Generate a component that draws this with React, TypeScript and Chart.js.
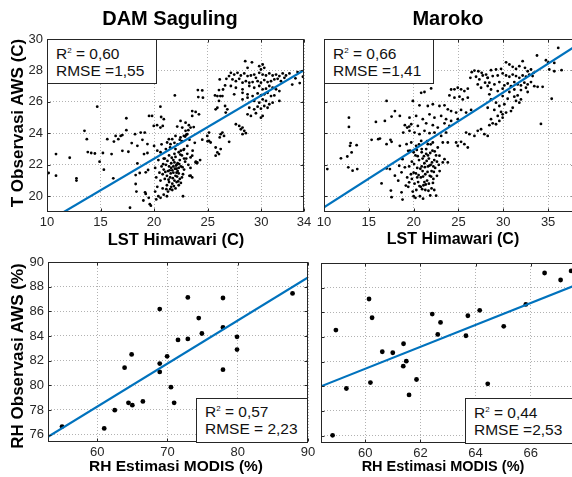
import React, { useEffect, useRef } from 'react';
import { Chart, registerables } from 'chart.js';

Chart.register(...registerables);

const FONT = "'Liberation Sans', Arial, Helvetica, sans-serif";
const INK = '#262626';
const FIT_COLOR = '#0072BD';
const GRID_COLOR = 'rgba(0,0,0,0.3)';

// ---------- titles / labels ----------
const TITLES = ['DAM Saguling', 'Maroko'];
const TOP_X_LABEL = 'LST Himawari (C)';
const TOP_Y_LABEL = 'T Observasi AWS (C)';
const BOTTOM_X_LABEL = 'RH Estimasi MODIS (%)';
const BOTTOM_Y_LABEL = 'RH Observasi AWS (%)';

// ---------- tick values ----------
const TL_X_TICKS = [10, 15, 20, 25, 30, 34];
const TR_X_TICKS = [10, 15, 20, 25, 30, 35];
const T_Y_TICKS = [20, 22, 24, 26, 28, 30];
const BL_X_TICKS = [60, 70, 80, 90];
const BR_X_TICKS = [60, 62, 64, 66, 68];
const RH_Y_TICKS = [76, 78, 80, 82, 84, 86, 88, 90];

// ---------- axis ranges ----------
const TL_X_RANGE = [10, 34];
const TR_X_RANGE = [10, 38];
const T_Y_RANGE = [19, 30];
const BL_X_RANGE = [53, 90];
const BR_X_RANGE = [58.4, 68];
const RH_Y_RANGE = [75.4, 90];

// ---------- regression lines [slope, intercept] ----------
const TL_FIT = [0.402, 14.35];
const TR_FIT = [0.365, 15.65];
const BL_FIT = [0.349, 57.33];
const BR_FIT = [0.889, 28.08];

// ---------- statistics ----------
const TL_STATS = ['0,60', 'RMSE =1,55'];
const TR_STATS = ['0,66', 'RMSE =1,41'];
const BL_STATS = ['0,57', 'RMSE = 2,23'];
const BR_STATS = ['0,44', 'RMSE =2,53'];

// ---------- DAM Saguling: LST Himawari vs T AWS ----------
const TL_POINTS: number[][] = [
  [14.69,25.70],[10.15,21.48],[10.84,22.68],[10.84,21.31],[12.12,22.45],[12.75,21.14],[12.75,21.0],[13.5,24.16],
  [13.72,23.63],[13.81,22.81],[14.13,22.75],[14.47,22.72],[14.91,22.2],[15.22,22.75],[15.31,21.69],[15.63,23.63],
  [16.03,22.68],[16.19,21.14],[16.25,23.48],[16.41,23.84],[16.66,23.63],[16.88,23.84],[17.04,23.89],[17.41,24.96],
  [17.41,24.2],[17.04,22.89],[17.6,22.83],[17.91,23.38],[18.22,23.95],[18.75,24.05],[19.13,24.05],[18.44,23.21],
  [18.91,23.59],[19.38,23.32],[18.44,22.09],[19.06,22.68],[19.38,22.75],[19.53,25.11],[18.28,21.35],[18.28,20.78],
  [18.35,20.3],[19.16,20.25],[19.22,20.15],[19.0,19.73],[17.75,19.27],[18.66,21.48],[19.22,21.52],[19.44,21.67],
  [27.0,27.64],[26.75,27.47],[26.13,27.43],[26.63,27.05],[26.44,26.79],[26.06,26.75],[25.69,26.41],[25.91,26.37],
  [26.19,26.37],[26.38,26.37],[24.09,26.75],[24.5,26.73],[24.13,26.31],[24.56,26.27],[21.94,26.41],[20.59,25.70],
  [26.06,26.06],[25.91,25.63],[25.75,25.53],[26.63,25.74],[26.84,25.53],[26.69,25.32],[23.56,25.42],[23.88,25.36],
  [24.19,25.21],[23.56,25.11],[20.66,25.04],[20.91,24.9],[20.81,24.47],[20.59,24.37],[19.81,25.11],[19.97,24.47],
  [20.28,24.52],[22.47,24.79],[22.94,24.68],[23.25,24.52],[22.16,24.43],[22.63,24.37],[22.94,24.16],[23.41,24.37],
  [23.09,23.95],[22.78,23.84],[22.47,23.74],[22.0,23.84],[21.69,23.63],[21.38,23.63],[21.22,23.42],[21.53,23.31],
  [25.13,24.05],[24.97,23.84],[26.38,24.05],[26.22,23.95],[26.53,23.84],[26.13,23.74],[25.75,23.1],[25.91,22.79],
  [26.06,22.68],[25.75,22.58],[25.13,23.52],[25.28,23.42],[26.22,23.0],[23.41,22.47],[23.56,22.58],[23.88,22.15],
  [24.03,22.15],[23.41,21.31],[23.56,21.2],
  [20.1,21.8],[20.2,21.2],[20.3,20.6],[20.4,22.3],[20.1,20.3],[20.5,21.5],[20.3,22.9],[20.0,23.2],[20.4,20.0],[20.2,19.8],
  [20.6,21.0],[20.7,21.9],[20.8,20.5],[20.9,22.4],[20.6,22.8],[20.8,21.4],[20.9,20.1],[20.7,23.3],[20.6,19.9],[20.9,21.7],
  [21.0,21.1],[21.1,22.0],[21.2,20.7],[21.3,21.6],[21.4,22.6],[21.1,23.0],[21.2,21.3],[21.3,20.3],[21.4,21.9],[21.0,22.4],
  [21.2,20.0],[21.4,20.9],[21.5,21.2],[21.6,22.1],[21.7,20.8],[21.8,21.5],[21.9,22.7],[21.6,21.8],[21.7,20.4],[21.8,22.3],
  [21.9,21.0],[21.5,23.1],[21.6,20.6],[21.8,21.9],[21.9,23.4],[22.0,21.3],[22.1,22.0],[22.2,21.6],[22.3,22.8],[22.4,21.1],
  [22.0,22.5],[22.1,20.9],[22.2,23.3],[22.3,21.8],[22.4,22.3],[22.0,20.5],[22.2,22.1],[22.4,23.6],[22.1,21.5],[22.3,20.7],
  [22.5,21.9],[22.6,22.6],[22.7,21.4],[22.8,23.0],[22.9,22.2],[22.6,23.5],[22.7,20.0],[22.8,21.7],[22.5,22.9],[22.9,23.8],
  [22.6,21.2],[22.8,22.4],[23.0,22.4],[23.1,23.2],[23.2,22.0],[23.3,23.6],[23.4,21.8],[23.1,22.7],[23.3,21.3],[23.0,23.9],
  [23.2,24.2],[23.6,22.9],[23.8,23.4],[23.7,24.4],[23.9,22.2],[19.6,19.5],[19.5,19.9],[19.7,19.4],[24.3,22.3],[24.5,23.6],
  [25.0,23.5],[24.0,22.1],[21.55,21.45],[21.75,21.15],[21.95,21.75],[22.15,21.25],[22.35,22.05],[21.65,22.45],[22.05,21.95],
  [21.85,20.65],[22.25,20.95],[21.45,21.65],
  [21.05,21.55],[21.25,22.25],[21.5,20.45],[21.7,21.65],[21.9,22.15],[22.1,21.75],[22.3,21.45],[22.5,20.85],[22.45,22.65],
  [21.35,21.05],[20.85,22.05],[22.65,21.85],[21.15,20.45],[22.0,23.0],[22.75,22.95],
  [28.51,28.59],[29.14,28.52],[28.73,28.17],[29.82,28.27],[30.14,28.38],[30.29,28.17],[29.98,28.06],
  [27.17,27.85],[27.48,27.74],[27.79,27.85],[28.10,27.68],[28.42,27.81],[28.73,27.64],[29.04,27.68],[29.35,27.74],
  [29.51,27.53],[29.82,27.85],[30.14,27.74],[30.45,27.68],[30.76,27.81],[31.07,27.68],[31.39,27.74],[31.70,27.64],
  [32.01,27.81],[32.32,27.68],[32.64,27.81],
  [27.32,27.43],[27.64,27.32],[27.95,27.47],[28.26,27.22],[28.57,27.32],[28.89,27.22],[29.20,27.26],[29.67,27.32],
  [29.98,27.22],[30.29,27.39],[30.60,27.26],[30.92,27.32],[31.23,27.43],[31.54,27.47],[31.85,27.32],[32.17,27.53],
  [27.17,27.01],[27.64,26.9],[28.26,26.8],[28.89,27.01],[29.35,26.9],[29.82,27.01],[30.14,26.8],[30.45,26.84],
  [30.76,27.01],[31.07,26.9],[31.39,26.8],[31.70,26.69],
  [27.48,26.48],[28.26,26.58],[28.73,26.48],[29.20,26.37],[29.67,26.54],[29.98,26.41],[30.29,26.48],[30.60,26.58],
  [30.92,26.37],[31.23,26.41],[31.70,26.06],
  [28.26,26.16],[28.73,26.27],[29.35,26.06],[29.82,25.95],[30.14,26.16],[30.45,26.06],[30.76,25.85],[31.07,25.95],
  [28.89,25.63],[29.35,25.53],[29.67,25.70],[29.98,25.57],[30.29,25.74],[30.60,25.63],
  [28.73,25.21],[29.04,25.11],[29.51,25.28],[29.98,25.0],[30.14,25.11],
  [27.64,24.58],[27.95,24.47],[28.26,24.37],[28.42,24.16],[28.26,23.95],[28.57,24.01],[28.10,24.26],[27.01,23.46],
  [33.2,27.5],[33.6,27.2],[33.9,27.6],[32.9,27.1],[33.4,27.9],
];

// ---------- Maroko: LST Himawari vs T AWS ----------
const TR_POINTS: number[][] = [
  [16.98,26.06],[17.91,25.42],[18.46,25.11],[17.54,25.07],[16.79,24.79],[15.79,24.73],[12.78,25.0],[12.78,24.41],
  [19.02,24.52],[19.28,24.37],[19.5,24.43],[18.84,24.05],[12.97,23.38],[12.90,23.21],[13.64,23.25],[13.08,22.79],
  [15.31,23.59],[16.05,23.63],[16.24,23.67],[16.98,23.31],[17.42,23.59],[17.54,23.46],[18.46,23.21],[19.21,23.31],
  [19.39,22.89],[11.89,22.41],[12.6,22.53],[10.37,21.73],[12.71,21.84],[13.19,21.63],[13.71,21.73],[16.98,21.77],
  [17.35,21.73],[18.76,22.36],[18.39,21.94],[19.02,21.84],[18.65,21.52],[17.91,21.31],[18.28,20.99],[16.42,20.82],
  [19.28,21.2],[19.5,20.89],[19.13,20.68],[17.46,20.36],[18.65,20.25],[17.54,19.94],[18.76,19.79],
  [26.48,27.89],[26.78,27.99],[27.22,27.95],[27.59,27.85],[26.33,27.53],[26.96,27.6],[27.33,27.43],[27.71,27.68],
  [28.08,27.74],[28.26,27.53],[27.15,27.11],[27.52,26.9],[27.97,27.22],[28.26,27.01],[21.95,26.86],[20.84,26.58],
  [21.21,26.63],[24.18,26.79],[24.55,26.8],[24.92,26.9],[25.29,26.8],[25.66,26.69],[26.04,26.84],[23.99,26.41],
  [24.55,26.27],[25.11,26.33],[25.48,26.16],[26.04,26.27],[19.91,26.06],[20.65,25.78],[21.58,25.74],[22.14,25.85],
  [22.88,25.74],[23.44,25.78],[23.81,25.53],[24.18,25.42],[24.74,25.32],[25.29,25.49],[25.85,25.32],[26.41,25.49],
  [19.54,25.0],[20.28,25.11],[21.02,24.9],[21.77,25.21],[22.32,25.0],[23.07,25.11],[23.62,24.9],[24.18,24.79],
  [24.92,24.9],[19.73,24.58],[20.47,24.47],[21.4,24.64],[22.14,24.52],[22.69,24.37],[23.44,24.64],[23.99,24.47],
  [19.54,24.16],[20.1,24.05],[20.65,23.95],[21.21,24.16],[21.77,24.01],[22.32,24.05],[23.07,23.84],[23.62,24.05],
  [25.85,24.05],[26.22,23.95],[26.78,23.84],[27.15,24.16],[27.52,24.26],[27.89,23.95],[28.26,23.84],[24.74,23.42],
  [25.29,23.46],[24.92,23.21],[25.66,23.31],[26.04,23.1],[23.81,23.42],[19.73,23.42],[20.28,23.21],[20.84,23.52],
  [21.58,23.31],[22.14,23.42],[22.69,23.1],[23.25,23.42],[22.88,22.58],[23.25,22.15],[23.81,22.15],[23.44,22.36],
  [22.51,20.04],
  [19.6,22.9],[19.8,22.2],[20.0,21.5],[20.2,22.6],[20.4,21.8],[20.5,20.9],[20.6,22.3],[20.8,21.2],[20.9,22.8],[21.0,21.6],
  [21.1,20.7],[21.2,22.1],[21.3,21.4],[21.4,22.7],[21.5,21.0],[21.6,21.9],[21.7,22.4],[21.8,21.3],[21.9,22.0],[22.0,21.6],
  [22.1,22.9],[22.2,21.1],[22.3,22.3],[22.4,21.8],[22.5,22.6],[20.3,20.4],[20.7,20.0],[20.1,20.8],[19.8,21.1],[19.5,21.9],
  [20.9,21.9],[21.3,20.4],[21.7,20.8],[22.0,20.5],[21.4,23.0],[20.6,23.3],[22.6,21.3],[22.8,22.0],[21.0,22.4],[21.6,22.6],
  [20.4,21.2],[19.9,20.3],[20.2,19.9],[20.8,20.6],[21.2,20.9],[22.2,21.9],[21.9,23.3],[20.0,22.8],[19.4,20.6],[22.3,20.4],
  [19.7,21.4],[20.05,22.05],[20.35,22.95],[20.55,21.35],[20.75,21.75],[20.95,20.45],[21.05,21.25],[21.15,22.55],
  [21.25,21.85],[21.35,20.75],[21.45,22.25],[21.55,21.55],[21.65,20.35],[21.75,21.95],[21.85,22.75],[21.95,21.25],
  [22.05,22.15],[22.15,20.85],[22.25,21.55],[22.35,22.85],[20.45,22.55],[20.65,20.65],[21.05,19.85],[21.85,20.05],
  [20.25,21.45],[21.5,23.5],[20.9,23.0],[22.6,22.2],[22.9,21.6],[20.0,20.0],
  [36.13,29.43],[33.76,28.95],[34.76,28.65],[35.02,28.52],[35.69,28.48],[35.13,28.06],[36.5,28.02],[35.69,27.95],
  [28.63,28.02],[29.19,28.06],[29.75,28.1],[30.31,28.52],[30.68,28.38],[31.05,28.23],[31.42,28.1],[31.79,28.27],
  [32.16,28.59],[32.42,28.17],[32.72,27.95],[33.09,28.06],[33.39,27.85],
  [28.26,27.53],[28.82,27.64],[29.38,27.68],[29.93,27.81],[30.31,27.68],[30.68,27.6],[31.05,27.74],[31.42,27.64],
  [31.79,27.53],[32.16,27.68],[32.53,27.6],[32.9,27.74],[33.27,27.64],
  [28.45,27.22],[29.01,27.11],[29.56,27.26],[30.12,27.05],[30.49,27.17],[30.86,27.0],[31.23,27.26],[31.6,27.11],
  [31.97,27.05],[32.35,27.22],[32.72,27.11],[33.09,27.26],[33.46,27.0],
  [28.63,26.79],[29.38,26.69],[29.93,26.84],[30.68,26.63],[31.23,26.79],[31.97,26.75],[32.53,26.9],[33.83,26.96],[34.39,26.96],
  [29.93,26.37],[30.49,26.2],[31.23,26.33],[31.6,26.41],[31.97,26.16],[31.42,26.06],[31.79,25.95],[32.72,26.63],
  [29.19,25.95],[29.56,25.74],[30.12,25.85],[29.0,25.49],[29.75,25.36],[29.38,25.11],[29.93,25.21],[29.56,24.79],
  [29.19,24.58],[28.82,24.64],[28.45,24.52],[29.93,25.0],[30.31,25.32],[31.05,25.63],[30.86,25.42],
  [28.45,26.48],[28.63,26.16],[28.26,25.63],[28.63,24.9],[35.4,26.2],[34.2,24.6],
];

// ---------- DAM Saguling: RH MODIS vs RH AWS ----------
const BL_POINTS: number[][] = [
  [55.0,76.65],[61.0,76.5],[62.5,77.98],[63.9,81.43],[64.45,78.58],[65.0,78.39],[64.9,82.5],[66.5,78.69],
  [68.9,86.18],[68.9,81.76],[68.9,81.08],[69.95,82.35],[70.5,79.85],[70.95,78.58],[71.5,83.68],[72.9,87.13],
  [72.9,83.76],[74.45,85.45],[74.9,84.2],[77.9,87.08],[77.9,84.69],[77.9,81.27],[79.9,83.93],[79.9,82.9],
  [87.8,87.45],
];

// ---------- Maroko: RH MODIS vs RH AWS ----------
const BR_POINTS: number[][] = [
  [58.82,76.02],[58.94,84.56],[59.32,79.82],[60.14,87.08],[60.25,85.56],[60.19,80.30],[60.62,82.80],[61.0,82.72],
  [61.39,83.45],[61.49,82.04],[61.38,81.63],[61.59,79.30],[61.86,80.55],[62.43,85.86],[62.73,85.18],[62.63,84.21],
  [63.65,84.10],[63.72,85.72],[64.15,86.16],[64.44,80.20],[65.02,84.86],[65.82,86.64],[66.5,89.19],[67.08,88.62],
  [67.46,89.36],
];

const boxPlugin = {
  id: 'matlabBox',
  afterDatasetsDraw(chart: any) {
    const { ctx, chartArea: a, scales } = chart;
    const l = Math.round(a.left) + 0.5;
    const t = Math.round(a.top) + 0.5;
    const r = Math.round(a.right) - 0.5;
    const b = Math.round(a.bottom) - 0.5;
    ctx.save();
    ctx.strokeStyle = INK;
    ctx.lineWidth = 1;
    ctx.setLineDash([]);
    ctx.beginPath();
    const tl = 3;
    for (const tk of scales.x.ticks) {
      const px = Math.round(scales.x.getPixelForValue(tk.value)) + 0.5;
      ctx.moveTo(px, b); ctx.lineTo(px, b - tl);
      ctx.moveTo(px, t); ctx.lineTo(px, t + tl);
    }
    for (const tk of scales.y.ticks) {
      const py = Math.round(scales.y.getPixelForValue(tk.value)) + 0.5;
      ctx.moveTo(l, py); ctx.lineTo(l + tl, py);
      ctx.moveTo(r, py); ctx.lineTo(r - tl, py);
    }
    ctx.stroke();
    ctx.strokeRect(l, t, r - l, b - t);
    ctx.restore();
  },
};

type PanelProps = {
  points: number[][];
  fit: number[];
  xRange: number[];
  yRange: number[];
  xTicks: number[];
  yTicks: number[];
  showY: boolean;
  plotLeft: number;
  plotTop: number;
  plotW: number;
  plotH: number;
  radius: number;
};

function Panel(p: PanelProps) {
  const ref = useRef<HTMLCanvasElement>(null);
  const PAD = 16;
  const B = 28;
  const L = p.showY ? p.plotLeft : 16;
  const W = L + p.plotW + PAD;
  const H = PAD + p.plotH + B;
  const left = p.plotLeft - L;
  const top = p.plotTop - PAD;

  useEffect(() => {
    if (!ref.current) return;
    const lineData = p.xRange.map((x) => ({ x, y: p.fit[0] * x + p.fit[1] }));
    const tickFont = { family: FONT, size: 13 };
    const chart = new Chart(ref.current, {
      type: 'scatter',
      data: {
        datasets: [
          {
            type: 'line',
            data: lineData,
            borderColor: FIT_COLOR,
            borderWidth: 2.2,
            pointRadius: 0,
            clip: 0,
            order: 0,
          } as any,
          {
            data: p.points.map(([x, y]) => ({ x, y })),
            pointRadius: p.radius,
            pointBackgroundColor: '#000',
            pointBorderWidth: 0,
            backgroundColor: '#000',
            order: 1,
          },
        ],
      },
      options: {
        responsive: false,
        animation: false,
        devicePixelRatio: 1,
        layout: { padding: { top: PAD, right: PAD, left: 0, bottom: 0 } },
        plugins: { legend: { display: false }, tooltip: { enabled: false } },
        scales: {
          x: {
            type: 'linear',
            min: p.xRange[0],
            max: p.xRange[1],
            afterBuildTicks: (s: any) => { s.ticks = p.xTicks.map((v) => ({ value: v })); },
            afterFit: (s: any) => { s.height = B; },
            ticks: { font: tickFont, color: INK, padding: 3, autoSkip: false, maxRotation: 0, callback: (v: any) => String(v) },
            grid: { color: GRID_COLOR, drawTicks: false, lineWidth: 1 },
            border: { display: false, dash: [1, 2] },
          },
          y: {
            type: 'linear',
            min: p.yRange[0],
            max: p.yRange[1],
            afterBuildTicks: (s: any) => { s.ticks = p.yTicks.map((v) => ({ value: v })); },
            afterFit: (s: any) => { s.width = L; },
            ticks: { display: p.showY, font: tickFont, color: INK, padding: 4, autoSkip: false, callback: (v: any) => String(v) },
            grid: { color: GRID_COLOR, drawTicks: false, lineWidth: 1 },
            border: { display: false, dash: [1, 2] },
          },
        },
      } as any,
      plugins: [boxPlugin],
    });
    return () => chart.destroy();
  }, []);

  return (
    <canvas
      ref={ref}
      width={W}
      height={H}
      style={{ position: 'absolute', left, top, width: W, height: H }}
    />
  );
}

function Label(props: { text: string; cx: number; cy: number; size: number; rotate?: boolean }) {
  return (
    <div
      style={{
        position: 'absolute',
        left: props.cx,
        top: props.cy,
        transform: `translate(-50%, -50%)${props.rotate ? ' rotate(-90deg)' : ''}`,
        whiteSpace: 'nowrap',
        fontWeight: 'bold',
        fontSize: props.size,
        lineHeight: 1,
        fontFamily: FONT,
        color: '#000',
      }}
    >
      {props.text}
    </div>
  );
}

function StatBox(props: { stats: string[]; left: number; top: number; width: number; height: number; padL: number; padT: number }) {
  return (
    <div
      style={{
        position: 'absolute',
        left: props.left,
        top: props.top,
        width: props.width,
        height: props.height,
        boxSizing: 'border-box',
        border: `1px solid ${INK}`,
        background: '#fff',
        padding: `${props.padT}px 0 0 ${props.padL}px`,
        fontFamily: FONT,
        fontSize: 15.5,
        lineHeight: '16.5px',
        color: '#111',
        whiteSpace: 'pre',
      }}
    >
      <div>
        R<sup style={{ fontSize: 8, verticalAlign: '6px', lineHeight: 0 }}>2</sup>
        {' = ' + props.stats[0]}
      </div>
      <div>{props.stats[1]}</div>
    </div>
  );
}

export default function App() {
  return (
    <div
      style={{
        position: 'fixed',
        left: 0,
        top: 0,
        width: 572,
        height: 477,
        overflow: 'hidden',
        background: '#fff',
      }}
    >
      <Panel points={TL_POINTS} fit={TL_FIT} xRange={TL_X_RANGE} yRange={T_Y_RANGE} xTicks={TL_X_TICKS} yTicks={T_Y_TICKS}
        showY={true} plotLeft={47} plotTop={39} plotW={257} plotH={173} radius={1.4} />
      <Panel points={TR_POINTS} fit={TR_FIT} xRange={TR_X_RANGE} yRange={T_Y_RANGE} xTicks={TR_X_TICKS} yTicks={T_Y_TICKS}
        showY={false} plotLeft={324} plotTop={39} plotW={251} plotH={173} radius={1.4} />
      <Panel points={BL_POINTS} fit={BL_FIT} xRange={BL_X_RANGE} yRange={RH_Y_RANGE} xTicks={BL_X_TICKS} yTicks={RH_Y_TICKS}
        showY={true} plotLeft={48} plotTop={262} plotW={260} plotH={180} radius={2.4} />
      <Panel points={BR_POINTS} fit={BR_FIT} xRange={BR_X_RANGE} yRange={RH_Y_RANGE} xTicks={BR_X_TICKS} yTicks={RH_Y_TICKS}
        showY={false} plotLeft={321} plotTop={263} plotW={265} plotH={180} radius={2.4} />

      <Label text={TITLES[0]} cx={170} cy={18} size={20} />
      <Label text={TITLES[1]} cx={448} cy={18} size={20} />
      <Label text={TOP_X_LABEL} cx={176} cy={239} size={16.5} />
      <Label text={TOP_X_LABEL} cx={453} cy={239} size={16} />
      <Label text={TOP_Y_LABEL} cx={17} cy={123} size={17} rotate />
      <Label text={BOTTOM_Y_LABEL} cx={17} cy={356} size={17} rotate />
      <Label text={BOTTOM_X_LABEL} cx={176} cy={466} size={15.5} />
      <Label text={BOTTOM_X_LABEL} cx={443} cy={466} size={14.5} />

      <StatBox stats={TL_STATS} left={47} top={39} width={110} height={45} padL={8} padT={6} />
      <StatBox stats={TR_STATS} left={324} top={39} width={110} height={45} padL={8} padT={6} />
      <StatBox stats={BL_STATS} left={196} top={398} width={112} height={45} padL={8} padT={5} />
      <StatBox stats={BR_STATS} left={465} top={398} width={130} height={46} padL={8} padT={6} />
    </div>
  );
}
